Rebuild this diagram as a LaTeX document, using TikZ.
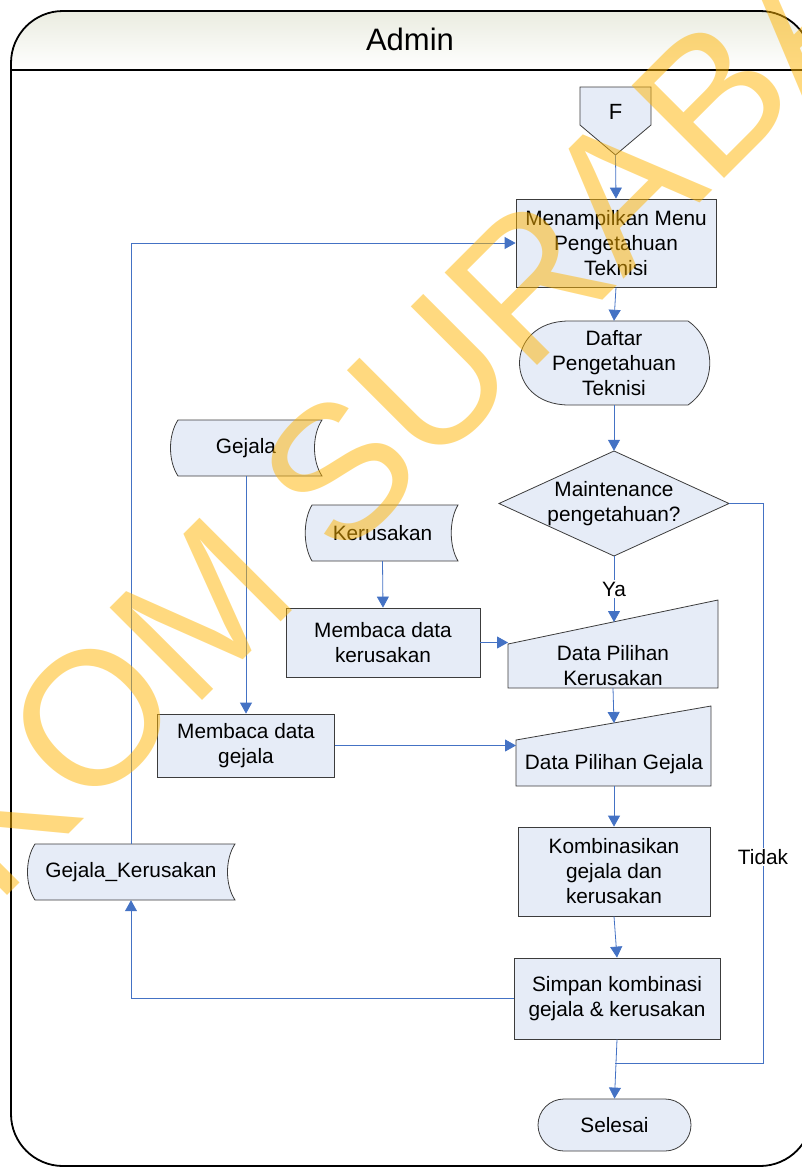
\documentclass[tikz,border=0pt]{standalone}
\usepackage{fontspec}
\setmainfont{Liberation Sans}
\usetikzlibrary{arrows.meta}
\definecolor{nodefill}{RGB}{230,236,247}
\definecolor{nodeline}{RGB}{60,60,60}
\definecolor{flowblue}{RGB}{68,114,196}
\definecolor{stamp}{RGB}{255,180,0}
\definecolor{headtop}{RGB}{234,236,224}
\newcommand\chartfont{\fontsize{20.8}{25}\selectfont}

\begin{document}
\begin{tikzpicture}[x=1pt,y=-1pt,
  shapeline/.style={draw=nodeline, fill=nodefill, line width=0.8pt},
  proc/.style={shapeline, rectangle, inner sep=0pt, align=center, font=\chartfont},
  txt/.style={inner sep=0pt, align=center, font=\chartfont},
  flow/.style={draw=flowblue, line width=0.8pt, -{Triangle[length=11pt,width=12pt]}},
  link/.style={draw=flowblue, line width=0.8pt},
  tag/.style={txt, fill=white, inner sep=1.5pt},
]
\useasboundingbox (0,0) rectangle (802,1167);
\begin{scope}
\clip (0,0) rectangle (802,1167);

% swimlane
\shade[top color=headtop, bottom color=white]
  (11,70) [rounded corners=55pt]-- (11,11) -- (812,11) [sharp corners]-- (812,70) -- cycle;
\draw[line width=1.8pt, rounded corners=52pt]
  (11,600) -- (11,11) -- (812,11) -- (812,1166) -- (11,1166) -- cycle;
\draw[line width=1.8pt] (11,70) -- (812,70);
\node[font=\fontsize{31}{36}\selectfont] (lane) at (410,39) {Admin};

% off-page connector
\draw[shapeline] (580,87) -- (651,87) -- (651,125) -- (615.5,155) -- (580,125) -- cycle;
\node[font=\fontsize{22}{26}\selectfont] (f) at (615.5,112) {F};
\coordinate (ftip) at (615.5,155);

% display symbol
\draw[shapeline] (569,321) -- (688,321) .. controls (717,341) and (717,385) .. (688,405)
  -- (569,405) .. controls (503,405) and (503,321) .. (569,321) -- cycle;

% decision
\draw[shapeline] (614,451) -- (729,503.5) -- (614,556) -- (499,503.5) -- cycle;

% manual inputs
\draw[shapeline] (508,644) -- (718,600) -- (718,688) -- (508,688) -- cycle;
\draw[shapeline] (516,740) -- (711,706) -- (711,786) -- (516,786) -- cycle;

% stored data
\draw[shapeline] (178,420) -- (322,420) .. controls (312,435) and (312,461) .. (322,476)
  -- (178,476) .. controls (168,461) and (168,435) .. (178,420) -- cycle;
\draw[shapeline] (312,505) -- (458,505) .. controls (449,520) and (449,546) .. (458,561)
  -- (312,561) .. controls (303,546) and (303,520) .. (312,505) -- cycle;
\draw[shapeline] (35,844) -- (235,844) .. controls (225,859) and (225,885) .. (235,900)
  -- (35,900) .. controls (25,885) and (25,859) .. (35,844) -- cycle;

% nodes
\node[proc, minimum width=200pt, minimum height=88pt] (menu) at (616,243)
  {Menampilkan Menu\\Pengetahuan\\Teknisi};
\node[txt, minimum width=190pt, minimum height=84pt] (daftar) at (614,363)
  {Daftar\\Pengetahuan\\Teknisi};
\node[txt, minimum width=230pt, minimum height=105pt] (dec) at (614,503.5)
  {Maintenance\\pengetahuan?};
\node[txt, minimum height=44pt] (dpk) at (613,666) {Data Pilihan\\Kerusakan};
\node[txt, minimum height=44pt] (dpg) at (614,764) {Data Pilihan Gejala};
\coordinate (dpktop) at (614,622);
\coordinate (dpkin) at (508,642.5);
\coordinate (dpgtop) at (614,723);
\coordinate (dpgin) at (516,745.5);
\node[proc, minimum width=192pt, minimum height=89pt] (komb) at (614,871.5)
  {Kombinasikan\\gejala dan\\kerusakan};
\node[proc, minimum width=206pt, minimum height=81pt] (simpan) at (617,998.5)
  {Simpan kombinasi\\gejala \& kerusakan};
\node[proc, minimum width=153pt, minimum height=52pt, rounded corners=26pt] (selesai)
  at (614.5,1125) {Selesai};
\coordinate (join) at (614.5,1063);
\coordinate (tidakturn) at (763,1063);

\node[txt, minimum height=56pt] (gej) at (246,448) {Gejala};
\node[txt, minimum height=56pt] (ker) at (382.5,533) {Kerusakan};
\node[txt, minimum height=56pt] (gk) at (131,872) {Gejala\_Kerusakan};
\node[proc, minimum width=194pt, minimum height=69pt] (mk) at (383,642.5)
  {Membaca data\\kerusakan};
\node[proc, minimum width=177pt, minimum height=63pt] (mg) at (246,745.5)
  {Membaca data\\gejala};

% connectors
\draw[flow] (ftip) -- (menu.north);
\draw[flow] (menu.south) -- (daftar.north);
\draw[flow] (daftar.south) -- (dec.north);
\draw[flow] (dec.south) -- node[tag] {Ya} (dpktop);
\draw[flow] (dpk.south) -- (dpgtop);
\draw[flow] (dpg.south) -- (komb.north);
\draw[flow] (komb.south) -- (simpan.north);
\draw[flow] (simpan.south) -- (selesai.north);
\draw[link] (dec.east) -| node[tag, pos=0.816] {Tidak} (tidakturn) -- (join);
\draw[flow] (gej.south) -- (mg.north);
\draw[flow] (ker.south) -- (mk.north);
\draw[flow] (mk.east) -- (dpkin);
\draw[flow] (mg.east) -- (dpgin);
\draw[flow] (gk.north) |- (menu.west);
\draw[flow] (simpan.west) -| (gk.south);

% watermark
\node[font=\fontsize{190}{190}\selectfont, text=stamp, text opacity=0.5, rotate=45,
  anchor=base, inner sep=0pt] (mark) at (420,483) {STIKOM SURABAYA};
\end{scope}
\end{tikzpicture}
\end{document}
